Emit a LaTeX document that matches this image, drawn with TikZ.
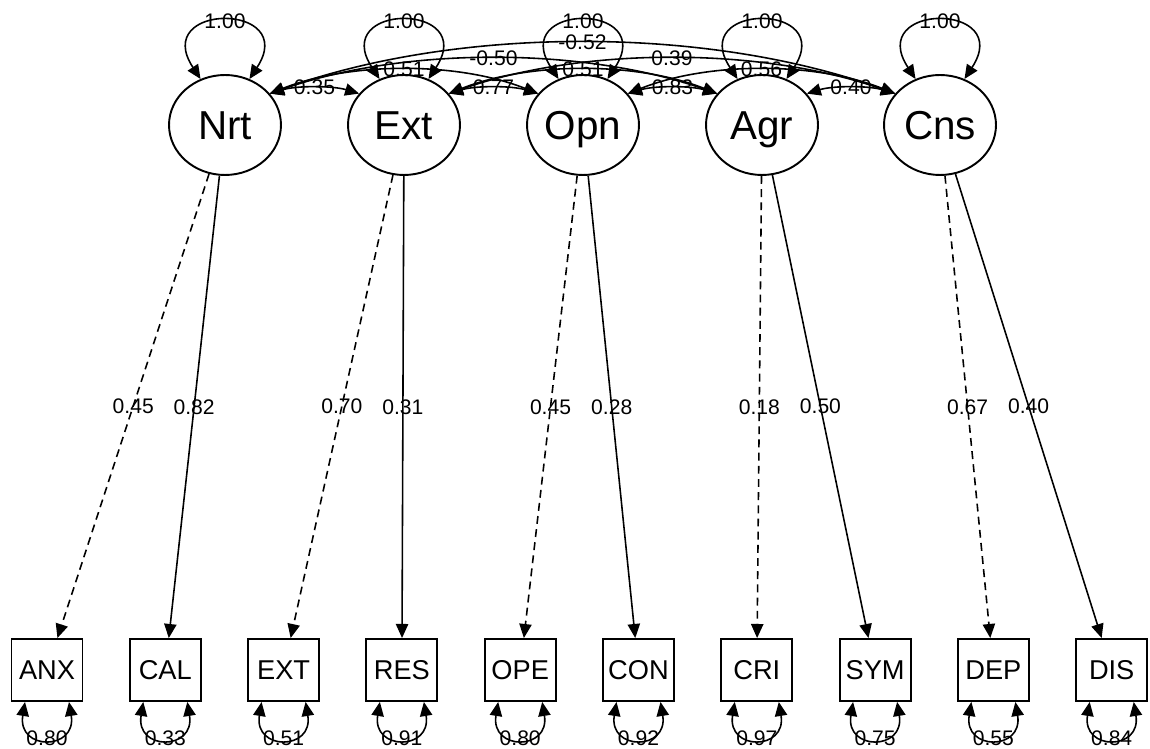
\documentclass[tikz,border=0pt]{standalone}
\usepackage{fontspec}
\setmainfont{Liberation Sans}
\usetikzlibrary{arrows.meta,calc,shapes.geometric}
\begin{document}
\begin{tikzpicture}[x=0.02cm,y=-0.02cm,
  >={Triangle[length=8pt,width=7pt]},
  lat/.style={ellipse,draw,line width=1.1pt,minimum width=2.24cm,minimum height=2.0cm,inner sep=0pt,
    text height=16.5pt,text depth=0pt,font=\fontsize{23}{24}\selectfont},
  man/.style={rectangle,draw,line width=1.1pt,minimum width=1.42cm,minimum height=1.24cm,inner sep=0pt,
    text height=11.1pt,text depth=0pt,font=\fontsize{15.5}{16}\selectfont},
  lbl/.style={font=\fontsize{12}{13}\selectfont,inner sep=0.5pt},
  load/.style={line width=0.9pt,->},
  fixload/.style={load,dash pattern=on 4.5pt off 3pt},
  cov/.style={line width=0.9pt,<->}]
\useasboundingbox (0,0) rectangle (1150,749);

% latent factors
\node[lat] (Nrt) at (225,125) {Nrt};
\node[lat] (Ext) at (404,125) {Ext};
\node[lat] (Opn) at (583,125) {Opn};
\node[lat] (Agr) at (762,125) {Agr};
\node[lat] (Cns) at (940,125) {Cns};

% indicators
\foreach \nm [count=\i from 0] in {ANX,CAL,EXT,RES,OPE,CON,CRI,SYM,DEP,DIS}
  \node[man] (\nm) at ({47+118.3*\i},670) {\nm};

% factor variances
\foreach \f in {Nrt,Ext,Opn,Agr,Cns}
  \draw[cov] (\f.118) .. controls ($(\f.center)+(-75,-123)$) and ($(\f.center)+(75,-123)$) .. (\f.62)
    node[lbl,pos=0.5] {1.00};

% factor covariances
\newcommand\covarc[4]{%
  \draw[cov] (#1.35) .. controls ($(#1.35)!0.3!(#2.145)+(0,#3)$) and ($(#1.35)!0.7!(#2.145)+(0,#3)$) .. (#2.145)
    node[lbl,pos=0.5] {#4};}
\covarc{Nrt}{Ext}{-8}{0.35}
\covarc{Ext}{Opn}{-8}{0.77}
\covarc{Opn}{Agr}{-8}{0.83}
\covarc{Agr}{Cns}{-8}{0.40}
\covarc{Nrt}{Opn}{-32}{0.51}
\covarc{Ext}{Agr}{-32}{0.51}
\covarc{Opn}{Cns}{-32}{0.56}
\covarc{Nrt}{Agr}{-47}{-0.50}
\covarc{Ext}{Cns}{-47}{0.39}
\covarc{Nrt}{Cns}{-68}{-0.52}

% loadings
\draw[fixload] (Nrt) -- node[lbl] {0.45} (ANX);
\draw[load]    (Nrt) -- node[lbl] {0.82} (CAL);
\draw[fixload] (Ext) -- node[lbl] {0.70} (EXT);
\draw[load]    (Ext) -- node[lbl] {0.31} (RES);
\draw[fixload] (Opn) -- node[lbl] {0.45} (OPE);
\draw[load]    (Opn) -- node[lbl] {0.28} (CON);
\draw[fixload] (Agr) -- node[lbl] {0.18} (CRI);
\draw[load]    (Agr) -- node[lbl] {0.50} (SYM);
\draw[fixload] (Cns) -- node[lbl] {0.67} (DEP);
\draw[load]    (Cns) -- node[lbl] {0.40} (DIS);

% residual variances
\foreach \nm/\v in {ANX/0.80,CAL/0.33,EXT/0.51,RES/0.91,OPE/0.80,CON/0.92,CRI/0.97,SYM/0.75,DEP/0.55,DIS/0.84}
  \draw[cov] ($(\nm.south)+(-22,0)$) .. controls ($(\nm.south)+(-30,49)$) and ($(\nm.south)+(30,49)$) .. ($(\nm.south)+(22,0)$)
    node[lbl,pos=0.5] {\v};
\end{tikzpicture}
\end{document}
